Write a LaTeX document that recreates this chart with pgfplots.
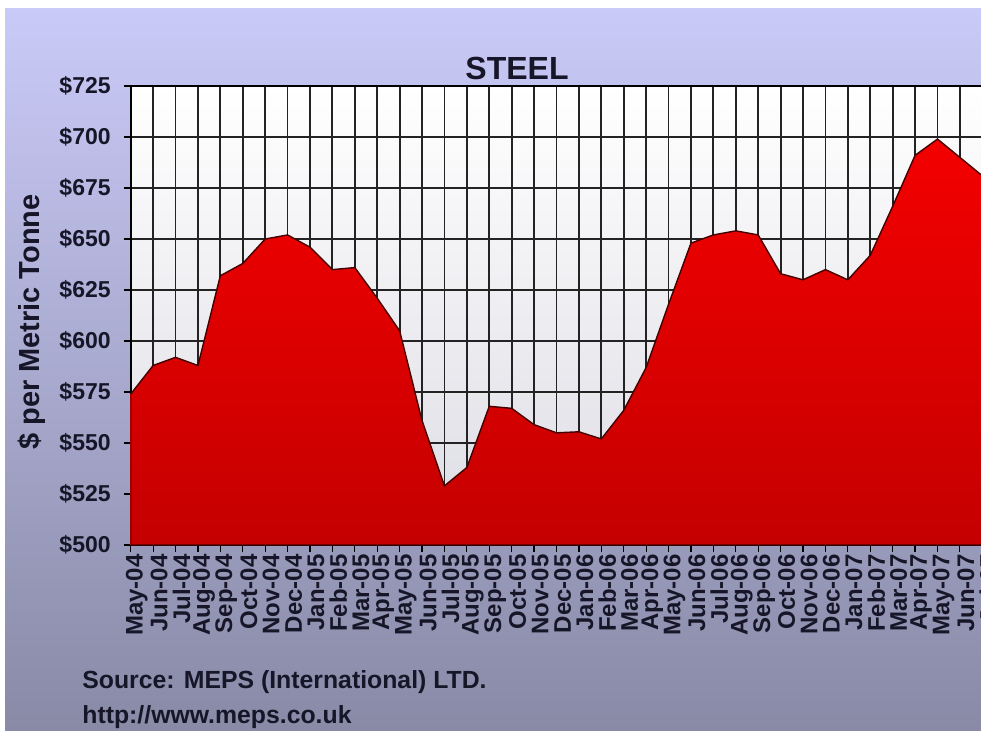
\documentclass[border=0pt]{standalone}
\usepackage{pgfplots}
\pgfplotsset{compat=1.18}
\usepackage{fontspec}
\setmainfont{Liberation Sans}
\setsansfont{Liberation Sans}

\definecolor{bgtop}{RGB}{202,202,248}
\definecolor{bgbot}{RGB}{136,138,166}
\definecolor{txt}{RGB}{22,22,40}
\definecolor{redtop}{RGB}{244,0,0}
\definecolor{redbot}{RGB}{196,0,0}
\definecolor{redline}{RGB}{70,0,0}
\definecolor{plotbot}{RGB}{220,220,228}

\begin{document}
\begin{tikzpicture}
% page background
\fill[white] (0pt,0pt) rectangle (490.5pt,-365pt);
\shade[top color=bgtop, bottom color=bgbot] (2.5pt,-4pt) rectangle (490.5pt,-365pt);

\begin{axis}[
  at={(65.35pt,-272.5pt)}, anchor=south west,
  width=425.8pt, height=229.5pt, scale only axis,
  xmin=0, xmax=38, ymin=500, ymax=725,
  xtick={0,...,38},
  xticklabels={May-04,Jun-04,Jul-04,Aug-04,Sep-04,Oct-04,Nov-04,Dec-04,Jan-05,Feb-05,Mar-05,Apr-05,May-05,Jun-05,Jul-05,Aug-05,Sep-05,Oct-05,Nov-05,Dec-05,Jan-06,Feb-06,Mar-06,Apr-06,May-06,Jun-06,Jul-06,Aug-06,Sep-06,Oct-06,Nov-06,Dec-06,Jan-07,Feb-07,Mar-07,Apr-07,May-07,Jun-07,Jul-07},
  ytick={500,525,...,725},
  yticklabels={\$500,\$525,\$550,\$575,\$600,\$625,\$650,\$675,\$700,\$725},
  /pgf/number format/assume math mode=true,
  tick align=outside, xtick pos=bottom, ytick pos=left,
  major tick length=3.5pt,
  tick style={black, line width=0.6pt},
  xticklabel style={rotate=90, anchor=east, text=txt, yshift=-3pt,
    font=\bfseries\fontsize{12}{13}\selectfont, inner sep=1pt},
  yticklabel style={text=txt, xshift=-3pt, font=\bfseries\fontsize{11.5}{13}\selectfont},
  grid=major,
  major grid style={draw={rgb,255:red,35;green,35;blue,35}, line width=0.9pt},
  axis line style={black, line width=0.9pt},
  axis background/.style={top color=white, bottom color=plotbot},
]
\addplot[draw=redline, line width=0.7pt, top color=redtop, bottom color=redbot]
coordinates {
  (0,500)
  (0,574) (1,588) (2,592) (3,588) (4,632) (5,638) (6,650) (7,652)
  (8,646) (9,635) (10,636) (11,621) (12,605) (13,561) (14,529) (15,538)
  (16,568) (17,567) (18,559) (19,555) (20,555.5) (21,552) (22,566) (23,587)
  (24,618) (25,648) (26,652) (27,654) (28,652) (29,633) (30,630) (31,635)
  (32,630) (33,642) (34,666) (35,691) (36,699) (37,690) (38,681)
  (38,500)
} -- cycle;
\end{axis}

% titles and source notes
\node[font=\bfseries\fontsize{16}{19}\selectfont, text=txt] at (258.5pt,-34pt) {STEEL};
\node[font=\bfseries\fontsize{14.5}{17}\selectfont, text=txt, rotate=90] at (16pt,-161pt) {\$ per Metric Tonne};
\node[font=\bfseries\fontsize{12.4}{15}\selectfont, text=txt, anchor=base west, inner sep=0pt] at (41pt,-344pt) {Source: MEPS (International) LTD.};
\node[font=\bfseries\fontsize{12.4}{15}\selectfont, text=txt, anchor=base west, inner sep=0pt] at (41pt,-361.5pt) {http://www.meps.co.uk};

\pgfresetboundingbox
\useasboundingbox (0pt,0pt) rectangle (490.5pt,-365pt);
\end{tikzpicture}
\end{document}
